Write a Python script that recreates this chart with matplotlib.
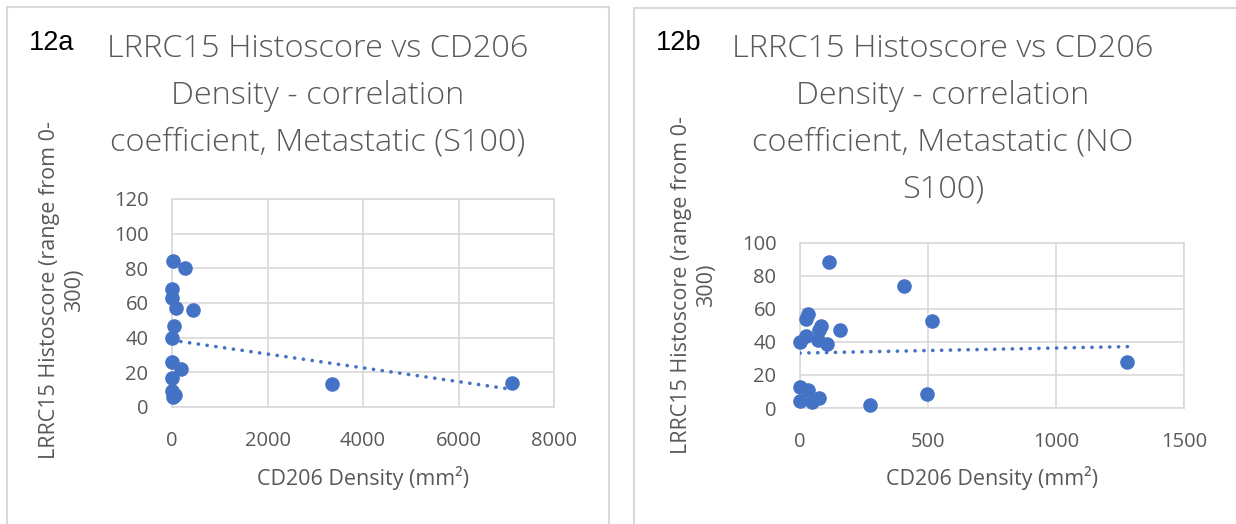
import matplotlib
matplotlib.use("Agg")
import matplotlib.pyplot as plt
from matplotlib.patches import Rectangle

# --- data ---
# 12a: Metastatic (S100)
a_x = [12, 277, 10, 5, 90, 450, 48, 0, 10, 187, 0, 10, 60, 30, 3354, 7116]
a_y = [84, 80, 68, 63, 57, 56, 47, 40, 26, 22, 17, 9, 7, 6, 13, 14]
a_trend_x = [0, 7116]
a_trend_y = [38.5, 10.2]

# 12b: Metastatic (NO S100)
b_x = [115, 407, 516, 33, 23, 81, 76, 157, 23, 72, 105, 0,
       0, 33, 0, 48, 76, 274, 496, 1279]
b_y = [88.5, 74, 53, 56.8, 54.2, 49.5, 47.5, 47, 43.5, 41, 39, 40,
       12.7, 11, 4.2, 3.6, 6, 1.6, 8.3, 27.9]
b_trend_x = [0, 1279]
b_trend_y = [33.3, 37.2]

panels = [
    dict(tag="12a", x=a_x, y=a_y, tx=a_trend_x, ty=a_trend_y,
         title="LRRC15 Histoscore vs CD206\nDensity - correlation\ncoefficient, Metastatic (S100)",
         xlim=(0, 8000), xticks=[0, 2000, 4000, 6000, 8000],
         ylim=(0, 120), yticks=[0, 20, 40, 60, 80, 100, 120]),
    dict(tag="12b", x=b_x, y=b_y, tx=b_trend_x, ty=b_trend_y,
         title="LRRC15 Histoscore vs CD206\nDensity - correlation\ncoefficient, Metastatic (NO\nS100)",
         xlim=(0, 1500), xticks=[0, 500, 1000, 1500],
         ylim=(0, 100), yticks=[0, 20, 40, 60, 80, 100]),
]

W, H = 1236, 524
BLUE = "#4472C4"
GREY = "#595959"
GRID = "#d9d9d9"
FONT = "Open Sans"

fig = plt.figure(figsize=(W / 100, H / 100), dpi=100)

# pixel layout: axes box, panel box, title centre, ylabel centre
layout = [
    dict(ax=(172, 199, 554, 407), box=(7, 7, 609), title_x=318, ylab=(62, 290)),
    dict(ax=(800, 243, 1184, 408), box=(634, 8, 1240), title_x=943, ylab=(694, 285)),
]

for p, L in zip(panels, layout):
    bx0, by0, bx1 = L["box"]
    fig.patches.append(Rectangle((bx0 / W, -0.1), (bx1 - bx0) / W, 1.1 - by0 / H,
                                 transform=fig.transFigure, fill=False,
                                 edgecolor=GRID, lw=1.5, zorder=0))

    x0, y0, x1, y1 = L["ax"]
    ax = fig.add_axes([x0 / W, 1 - y1 / H, (x1 - x0) / W, (y1 - y0) / H])
    ax.plot(p["tx"], p["ty"], color=BLUE, lw=2.6, ls=(0, (0.05, 2.4)),
            dash_capstyle="round", zorder=3)
    ax.plot(p["x"], p["y"], "o", color=BLUE, ms=10.5, mew=0, zorder=4,
            clip_on=False)
    ax.set_xlim(p["xlim"])
    ax.set_ylim(p["ylim"])
    ax.set_xticks(p["xticks"])
    ax.set_yticks(p["yticks"])
    ax.grid(True, color=GRID, lw=1.2)
    ax.set_axisbelow(True)
    for s in ax.spines.values():
        s.set_color(GRID)
        s.set_linewidth(1.2)
    ax.tick_params(length=0, pad=17, labelsize=14.5, labelcolor=GREY)
    for lab in ax.get_xticklabels() + ax.get_yticklabels():
        lab.set_family(FONT)

    fig.text(L["title_x"] / W, 1 - 33 / H, p["title"], ha="center", va="top",
             fontsize=23.4, color=GREY, family=FONT, fontweight="light",
             linespacing=1.62)
    fig.text((bx0 + 22) / W, 1 - 50 / H, p["tag"], ha="left", va="baseline",
             fontsize=19.5, color="black", family="Liberation Sans")
    fig.text((x0 + x1) / 2 / W, 1 - 478 / H, "CD206 Density (mm²)",
             ha="center", va="center", fontsize=15.5, color=GREY, family=FONT)
    fig.text(L["ylab"][0] / W, 1 - L["ylab"][1] / H,
             "LRRC15 Histoscore (range from 0-\n300)", rotation=90,
             ha="center", va="center", multialignment="center",
             fontsize=15.5, color=GREY, family=FONT, linespacing=1.3)

fig.savefig("out.png", dpi=100)
